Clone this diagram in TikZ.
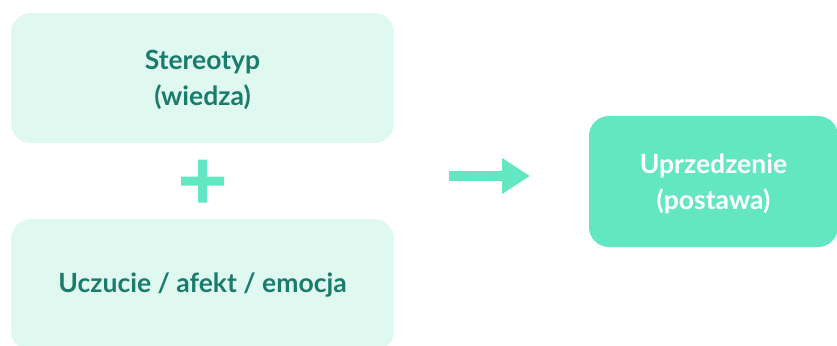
\documentclass[tikz,border=0pt]{standalone}
\usepackage{fontspec}
\setmainfont{Lato}
\usetikzlibrary{positioning, arrows.meta}
\definecolor{paleG}{HTML}{DFF9F1}
\definecolor{deepG}{HTML}{1B7C6C}
\definecolor{mintG}{HTML}{62E7C2}
\tikzset{
  card/.style    ={rounded corners=20pt, inner sep=4pt, align=center,
                   font=\bfseries\fontsize{26.5}{36}\selectfont},
  Lpart/.style   ={card, fill=paleG, text=deepG,
                   minimum width=383pt, minimum height=130pt},
  Lresult/.style ={card, fill=mintG, text=white, text depth=0pt,
                   minimum width=249pt, minimum height=131pt},
  leadsTo/.style ={-{Triangle[length=28pt, width=34pt]}, mintG,
                   line width=10pt},
}
\begin{document}
\begin{tikzpicture}[x=1pt, y=-1pt]
\useasboundingbox (0,0) rectangle (837,345);

\node[Lpart, text depth=0pt] (S) at (202.5, 78) {Stereotyp\\(wiedza)};
\node[Lpart, minimum height=132pt] (U) at (202.5, 285) {Uczucie / afekt / emocja};
\node[Lresult] (P) at (713.5, 181.5) {Uprzedzenie\\(postawa)};

% plus sign
\fill[mintG, shift={(202.5, 181)}]
  (-21.5, -4.5) rectangle (21.5, 4.5)
  (-4.5, -21.5) rectangle (4.5, 21.5);

% arrow
\coordinate (from) at (449, 176);
\coordinate (to) at (530, 176);
\draw[leadsTo] (from) -- (to);

\end{tikzpicture}
\end{document}
